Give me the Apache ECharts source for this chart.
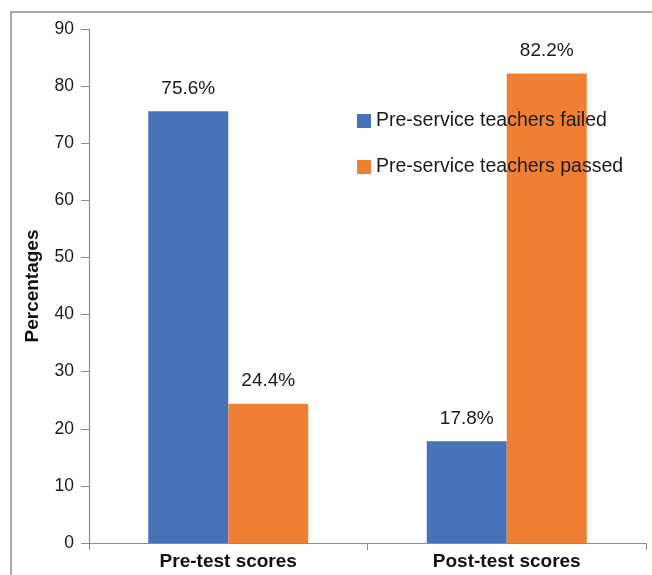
<!DOCTYPE html>
<html><head><meta charset="utf-8">
<script src="https://cdn.jsdelivr.net/npm/echarts@6/dist/echarts.min.js"></script>
<style>html,body{margin:0;padding:0;background:#fff}#c{width:652px;height:575px}</style>
</head><body><div id="c"></div>
<script>
const categories = ['Pre-test scores', 'Post-test scores'];
const failed = [75.6, 17.8];
const passed = [24.4, 82.2];
const seriesNames = ['Pre-service teachers failed', 'Pre-service teachers passed'];
const yTicks = { min: 0, max: 90, interval: 10 };

const chart = echarts.init(document.getElementById('c'));
const font = 'Liberation Sans, Arial, sans-serif';
const lbl = {
  show: true, position: 'top', distance: 13, color: '#1a1a1a', fontSize: 19, fontFamily: font,
  formatter: p => p.value.toFixed(1) + '%'
};
chart.setOption({
  animation: false,
  graphic: [{
    type: 'rect', shape: { x: 11, y: 12, width: 700, height: 700 },
    style: { fill: 'none', stroke: '#8a8a8a', lineWidth: 1.5 }, silent: true, z: -1
  }],
  grid: { left: 89, right: 6, top: 29, bottom: 32, containLabel: false },
  legend: {
    orient: 'vertical', left: 357, top: 111, padding: 0, itemGap: 26, itemWidth: 14, itemHeight: 14,
    icon: 'rect', textStyle: { fontSize: 19.5, color: '#1a1a1a', fontFamily: font },
    data: seriesNames
  },
  xAxis: {
    type: 'category', data: categories,
    axisLine: { lineStyle: { color: '#8c8c8c', width: 1.2 } },
    axisTick: { show: true, length: 7, lineStyle: { color: '#8c8c8c' } },
    axisLabel: { fontSize: 19, fontWeight: 'bold', color: '#111', fontFamily: font, margin: 9 }
  },
  yAxis: {
    type: 'value', min: yTicks.min, max: yTicks.max, interval: yTicks.interval,
    name: 'Percentages', nameLocation: 'middle', nameGap: 47,
    nameTextStyle: { fontSize: 19, fontWeight: 'bold', color: '#111', fontFamily: font },
    axisLine: { show: true, lineStyle: { color: '#8c8c8c', width: 1.2 } },
    axisTick: { show: true, length: 8, lineStyle: { color: '#8c8c8c' } },
    splitLine: { show: false },
    axisLabel: { fontSize: 17.5, color: '#1a1a1a', fontFamily: font, margin: 15 }
  },
  series: [
    { name: seriesNames[0], type: 'bar', data: failed, barWidth: 80, barGap: '0%',
      itemStyle: { color: '#4872b8' }, label: lbl },
    { name: seriesNames[1], type: 'bar', data: passed, barWidth: 80,
      itemStyle: { color: '#ee7f33' }, label: lbl }
  ]
});
</script></body></html>
